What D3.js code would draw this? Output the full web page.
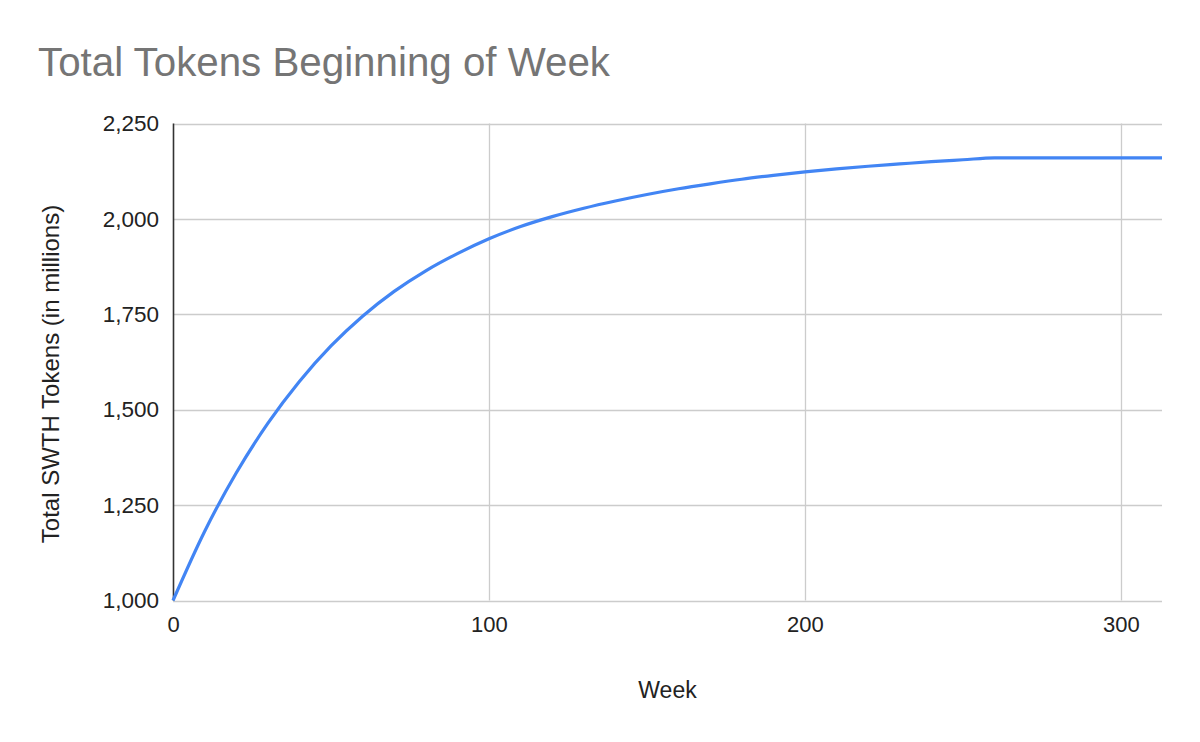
<!DOCTYPE html>
<html><head><meta charset="utf-8">
<script src="https://cdn.jsdelivr.net/npm/d3@7"></script>
<style>html,body{margin:0;padding:0;background:#fff;}svg{display:block;font-family:"Liberation Sans",Arial,sans-serif;}</style>
</head><body>
<svg id="c" width="1200" height="742"></svg>
<script>
const weeks  = [0,10,20,30,40,50,60,70,80,90,100,110,120,130,140,150,160,170,180,190,200,210,220,230,240,250,260,270,280,290,300,313];
const tokens = [1000,1181,1334,1464,1574,1667,1745,1810,1864,1909,1948,1980,2006,2028,2047,2064,2079,2092,2104,2114,2123,2131,2138,2144,2150,2155,2160,2160,2160,2160,2160,2160];
const yTicks = [1000,1250,1500,1750,2000,2250];
const xTicks = [0,100,200,300];
const title = "Total Tokens Beginning of Week";
const xTitle = "Week";
const yTitle = "Total SWTH Tokens (in millions)";

const FONT = "'Liberation Sans', Arial, sans-serif";
const svg = d3.select("#c");
const L=173, R=1162, T=123.5, B=600.5;
const x = d3.scaleLinear().domain([0,313]).range([L,R]);
const y = d3.scaleLinear().domain([1000,2250]).range([B,T]);

// gridlines
svg.append("g").selectAll("line").data(yTicks).join("line")
  .attr("x1",L).attr("x2",R).attr("y1",d=>Math.round(y(d))+0.5).attr("y2",d=>Math.round(y(d))+0.5)
  .attr("stroke","#cccccc").attr("stroke-width",1.3);
svg.append("g").selectAll("line").data(xTicks.filter(d=>d>0)).join("line")
  .attr("y1",T).attr("y2",B).attr("x1",d=>Math.round(x(d))+0.5).attr("x2",d=>Math.round(x(d))+0.5)
  .attr("stroke","#cccccc").attr("stroke-width",1.3);

// axes via d3
const yAxis = d3.axisLeft(y).tickValues(yTicks).tickFormat(d3.format(",")).tickSize(0).tickPadding(14);
const gy = svg.append("g").attr("transform",`translate(${L},0)`).call(yAxis);
gy.select(".domain").remove();
gy.selectAll("text").attr("font-size",22.5).attr("fill","#222").attr("font-family",FONT);

const xAxis = d3.axisBottom(x).tickValues(xTicks).tickFormat(d3.format("d")).tickSize(0).tickPadding(16);
const gx = svg.append("g").attr("transform",`translate(0,${B})`).call(xAxis);
gx.select(".domain").remove();
gx.selectAll("text").attr("font-size",22).attr("fill","#222").attr("font-family",FONT);

// left axis line
svg.append("line").attr("x1",L+0.5).attr("x2",L+0.5).attr("y1",T).attr("y2",B)
  .attr("stroke","#333").attr("stroke-width",1.6);

// line
const line = d3.line().x((d,i)=>x(weeks[i])).y(d=>y(d)).curve(d3.curveMonotoneX);
svg.append("path").datum(tokens).attr("d",line).attr("fill","none")
  .attr("stroke","#4285f4").attr("stroke-width",3.2).attr("stroke-linejoin","round");

// titles
svg.append("text").attr("x",38).attr("y",76).attr("font-size",40.3).attr("fill","#757575").text(title);
svg.append("text").attr("x",(L+R)/2).attr("y",698).attr("text-anchor","middle").attr("font-size",23).attr("fill","#222").text(xTitle);
svg.append("text").attr("transform",`translate(59,374) rotate(-90)`).attr("text-anchor","middle")
  .attr("font-size",24).attr("fill","#222").text(yTitle);
</script>
</body></html>
